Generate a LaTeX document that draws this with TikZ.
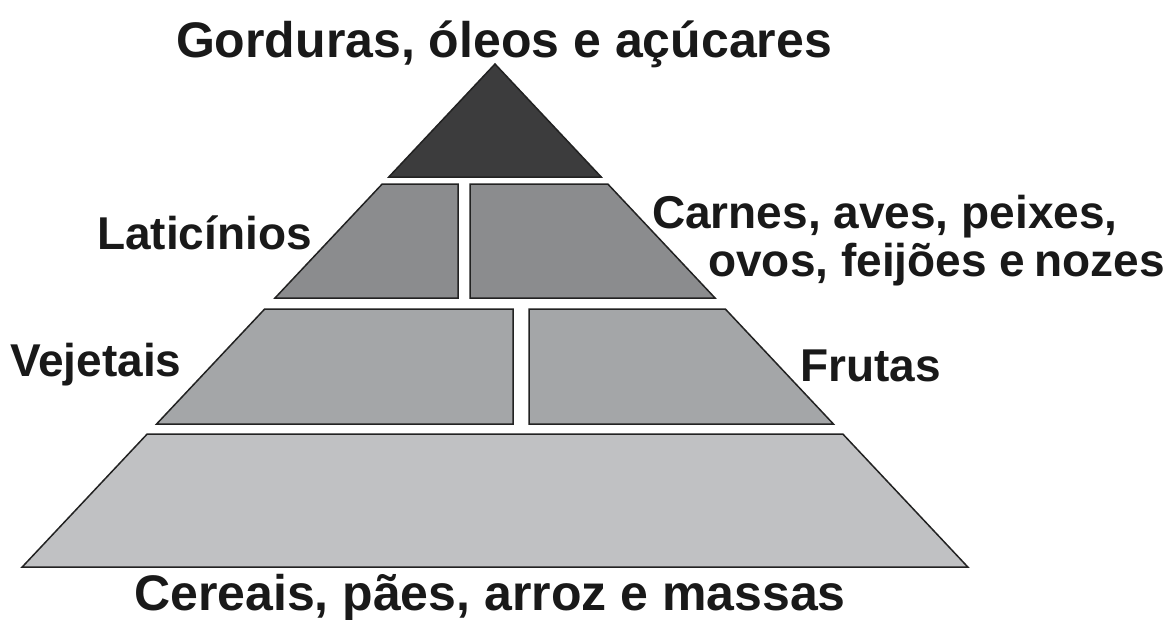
\documentclass[tikz,border=0pt]{standalone}
\usepackage{fontspec}
\setmainfont{Liberation Sans}
\usepackage{tikz}
\usetikzlibrary{positioning}
\definecolor{tiertop}{HTML}{3C3C3D}
\definecolor{tiertwo}{HTML}{8B8C8E}
\definecolor{tierthree}{HTML}{A4A6A8}
\definecolor{tierbase}{HTML}{C0C1C3}
\definecolor{edgegray}{HTML}{222222}
\tikzset{
    tier/.style={draw=edgegray, line width=1.5pt, line join=miter},
    label/.style={font=\fontsize{50}{56}\selectfont\bfseries, text=black!90, inner sep=0pt},
    sidelabel/.style={label, font=\fontsize{46}{52}\selectfont\bfseries},
}

\begin{document}
\begin{tikzpicture}[x=1pt, y=-1pt]
    \useasboundingbox (0,0) rectangle (1172,619);
    % Top: fats, oils and sugars
    \fill[tier, fill=tiertop] (495,64) -- (601.2,177) -- (388.8,177) -- cycle;
    % Second row: dairy | meat
    \fill[tier, fill=tiertwo] (382.2,184) -- (458,184) -- (458,298) -- (275,298) -- cycle;
    \fill[tier, fill=tiertwo] (470,184) -- (607.8,184) -- (715,298) -- (470,298) -- cycle;
    % Third row: vegetables | fruits
    \fill[tier, fill=tierthree] (264.7,309) -- (513,309) -- (513,424) -- (156.6,424) -- cycle;
    \fill[tier, fill=tierthree] (529,309) -- (725.3,309) -- (833.4,424) -- (529,424) -- cycle;
    % Base: cereals
    \fill[tier, fill=tierbase] (147.2,434) -- (842.8,434) -- (967.8,567) -- (22.2,567) -- cycle;
    % Labels
    \node[label, anchor=base] (fats) at (504,57) {Gorduras, óleos e açúcares};
    \node[sidelabel, anchor=base west] (dairy) at (97,249) {Laticínios};
    \node[sidelabel, anchor=base west] (meat) at (652,228) {Carnes, aves, peixes,};
    \node[sidelabel, anchor=base east] (meat2) at (1165,276) {ovos, feijões e\kern0.2em nozes};
    \node[sidelabel, anchor=base west] (veg) at (10,376) {Vejetais};
    \node[sidelabel, anchor=base west] (fruit) at (800,381) {Frutas};
    \node[label, anchor=base] (grain) at (490,610) {Cereais, pães, arroz e massas};
\end{tikzpicture}
\end{document}
